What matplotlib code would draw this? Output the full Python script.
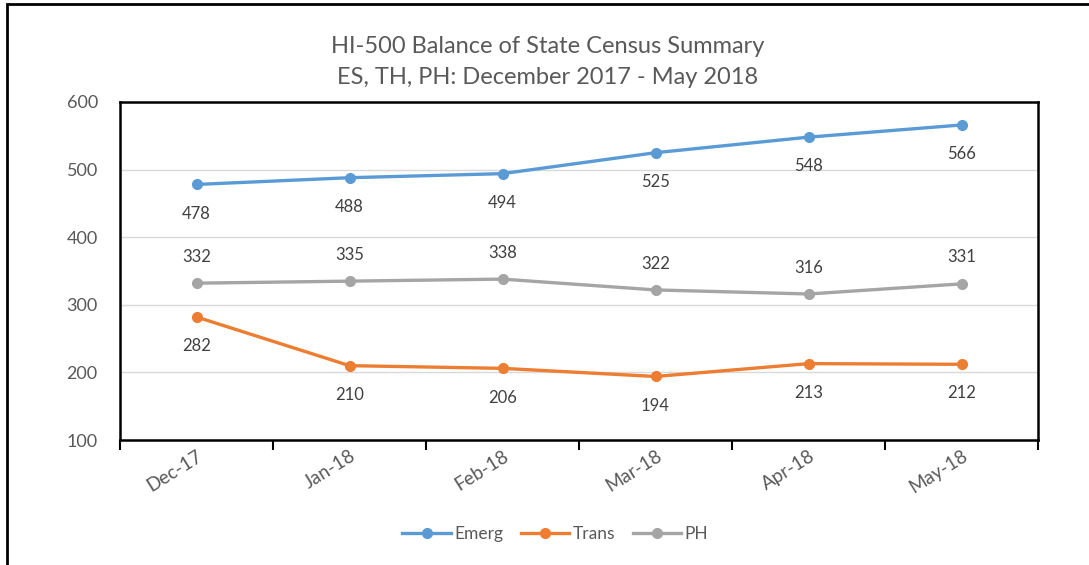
import matplotlib.pyplot as plt
from matplotlib.patches import Rectangle

plt.rcParams['font.family'] = ['Lato', 'DejaVu Sans']

months = ['Dec-17', 'Jan-18', 'Feb-18', 'Mar-18', 'Apr-18', 'May-18']
emerg = [478, 488, 494, 525, 548, 566]
trans = [282, 210, 206, 194, 213, 212]
ph = [332, 335, 338, 322, 316, 331]

text_color = '#595959'

fig = plt.figure(figsize=(10.89, 5.65), dpi=100)
ax = fig.add_axes([0.1102, 0.2212, 0.8430, 0.5983])

x = list(range(len(months)))
series = [
    ('Emerg', emerg, '#5B9BD5', -21),
    ('Trans', trans, '#ED7D31', -21),
    ('PH', ph, '#A5A5A5', 19),
]
for name, vals, color, off in series:
    ax.plot(x, vals, color=color, lw=2.4, marker='o', ms=7, label=name)
    for xi, v in zip(x, vals):
        ax.annotate(str(v), (xi, v), xytext=(0, off), textcoords='offset points',
                    ha='center', va='center', fontsize=12, color='#404040')

ax.set_xlim(-0.5, 5.5)
ax.set_ylim(100, 600)
ax.set_yticks([100, 200, 300, 400, 500, 600])
ax.yaxis.grid(True, color='#D9D9D9', lw=1)
ax.set_axisbelow(True)
ax.tick_params(axis='y', length=0, pad=16, labelsize=13, labelcolor=text_color)

ax.set_xticks([i - 0.5 for i in range(len(months) + 1)])
ax.set_xticklabels([])
ax.tick_params(axis='x', which='major', direction='out', length=7, width=1.5, color='black')
ax.set_xticks(x, minor=True)
ax.set_xticklabels(months, minor=True, rotation=32, ha='right', rotation_mode='anchor')
ax.tick_params(axis='x', which='minor', length=0, pad=5, labelsize=13.5, labelcolor=text_color)

for s in ax.spines.values():
    s.set_color('black')
    s.set_linewidth(1.8)

fig.text(0.503, 0.918, 'HI-500 Balance of State Census Summary', ha='center', va='center',
         fontsize=17, color=text_color)
fig.text(0.503, 0.863, 'ES, TH, PH: December 2017 - May 2018', ha='center', va='center',
         fontsize=17, color=text_color)

fig.legend(loc='center', bbox_to_anchor=(0.51, 0.055), ncol=3, frameon=False,
           fontsize=12.5, labelcolor=text_color, handlelength=2.8, handletextpad=0.2,
           columnspacing=1.0)

fig.patches.append(Rectangle((7 / 1089, -0.1), 1.2, 1 - 4 / 565 + 0.1, transform=fig.transFigure,
                             fill=False, edgecolor='black', lw=2))

fig.savefig('out.png', dpi=100)
